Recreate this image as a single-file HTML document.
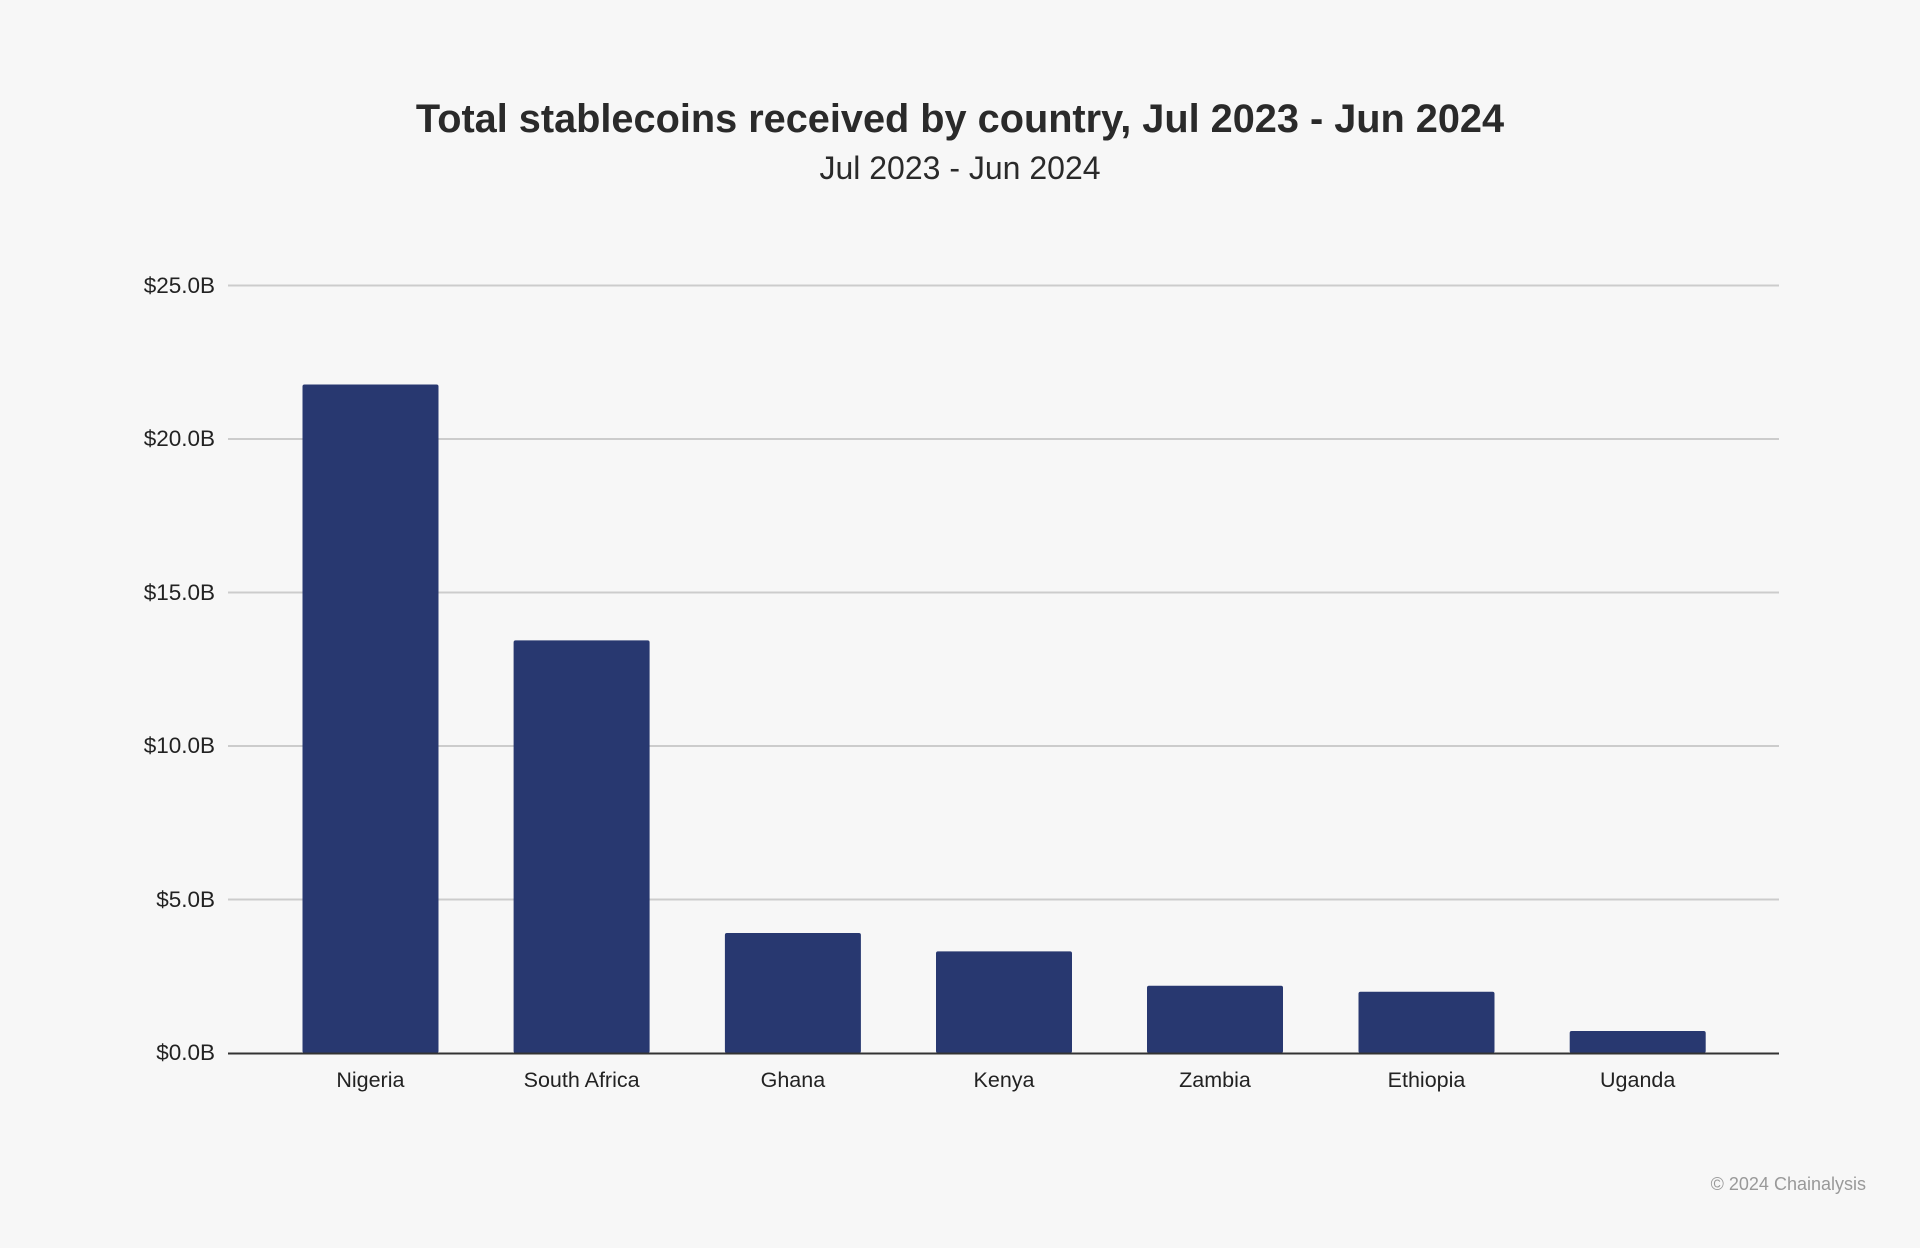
<!DOCTYPE html>
<html><head><meta charset="utf-8"><style>
html,body{margin:0;padding:0;background:#f7f7f7;}
svg{display:block}
</style></head><body>
<svg width="1920" height="1248" xmlns="http://www.w3.org/2000/svg">
<rect width="1920" height="1248" fill="#f7f7f7"/>
<text x="960" y="132" text-anchor="middle" font-family="Liberation Sans, sans-serif" font-weight="bold" font-size="39.7" fill="#2a2a2a">Total stablecoins received by country, Jul 2023 - Jun 2024</text>
<text x="960" y="179" text-anchor="middle" font-family="Liberation Sans, sans-serif" font-size="32" fill="#2a2a2a">Jul 2023 - Jun 2024</text>
<g stroke="#cccccc" stroke-width="2">
<line x1="228" y1="285.5" x2="1779" y2="285.5"/>
<line x1="228" y1="439" x2="1779" y2="439"/>
<line x1="228" y1="592.5" x2="1779" y2="592.5"/>
<line x1="228" y1="746" x2="1779" y2="746"/>
<line x1="228" y1="899.5" x2="1779" y2="899.5"/>
</g>
<g font-family="Liberation Sans, sans-serif" font-size="22.5" fill="#222" text-anchor="end">
<text x="215" y="293">$25.0B</text>
<text x="215" y="446">$20.0B</text>
<text x="215" y="600">$15.0B</text>
<text x="215" y="753">$10.0B</text>
<text x="215" y="907">$5.0B</text>
<text x="215" y="1060">$0.0B</text>
</g>
<g fill="#283870">
<rect x="302.5" y="384.5" width="136" height="668.5" rx="2"/>
<rect x="513.6" y="640.4" width="136" height="412.6" rx="2"/>
<rect x="724.9" y="933" width="136" height="120" rx="2"/>
<rect x="936" y="951.4" width="136" height="101.6" rx="2"/>
<rect x="1147" y="985.7" width="136" height="67.3" rx="2"/>
<rect x="1358.5" y="991.8" width="136" height="61.2" rx="2"/>
<rect x="1569.7" y="1031" width="136" height="22" rx="2"/>
</g>
<line x1="228" y1="1053.5" x2="1779" y2="1053.5" stroke="#333" stroke-width="2"/>
<g font-family="Liberation Sans, sans-serif" font-size="21.5" fill="#222" text-anchor="middle">
<text x="370.4" y="1087">Nigeria</text>
<text x="581.6" y="1087">South Africa</text>
<text x="792.9" y="1087">Ghana</text>
<text x="1004" y="1087">Kenya</text>
<text x="1215" y="1087">Zambia</text>
<text x="1426.5" y="1087">Ethiopia</text>
<text x="1637.7" y="1087">Uganda</text>
</g>
<text x="1866" y="1190" text-anchor="end" font-family="Liberation Sans, sans-serif" font-size="18" fill="#999">© 2024 Chainalysis</text>
</svg>
</body></html>
